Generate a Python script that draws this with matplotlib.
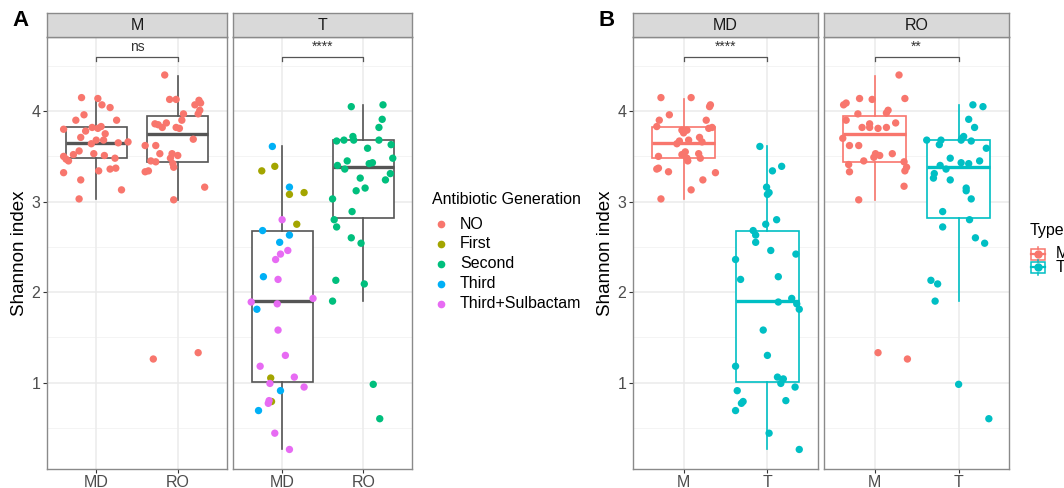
import matplotlib
matplotlib.use("Agg")
import matplotlib.pyplot as plt
from matplotlib.lines import Line2D
from matplotlib.patches import Rectangle

plt.rcParams['font.family'] = ['Liberation Sans', 'DejaVu Sans']

# ---------------- data ----------------
gen_names = ["NO", "First", "Second", "Third", "Third+Sulbactam"]
gen_colors = ["#F8766D", "#A3A500", "#00BF7D", "#00B0F6", "#E76BF3"]
type_names = ["M", "T"]
type_colors = ["#F8766D", "#00BFC4"]

# panel A, facet M (all generation NO)
a_m_md_y = [4.15, 4.14, 4.07, 4.04, 3.90, 3.96, 3.90, 3.80, 3.78, 3.82, 3.81, 3.83,
            3.75, 3.71, 3.68, 3.64, 3.68, 3.65, 3.66, 3.56, 3.52, 3.53, 3.50, 3.47,
            3.45, 3.51, 3.48, 3.32, 3.24, 3.34, 3.36, 3.37, 3.13, 3.03]
a_m_md_dx = [-0.18, 0.02, 0.07, 0.17, -0.25, -0.15, 0.25, -0.40, -0.13, -0.05, 0.02, 0.06,
             0.11, -0.19, 0.00, -0.06, 0.09, 0.27, 0.39, -0.21, -0.28, -0.03, -0.40, -0.37,
             -0.34, 0.10, 0.23, -0.40, -0.19, 0.03, 0.17, 0.24, 0.31, -0.21]
a_m_ro_y = [4.40, 4.13, 4.13, 4.12, 4.09, 4.07, 4.01, 3.97, 3.97, 3.90, 3.86, 3.85,
            3.82, 3.87, 3.82, 3.81, 3.62, 3.62, 3.69, 3.45, 3.44, 3.53, 3.53, 3.51,
            3.48, 3.42, 3.38, 3.33, 3.34, 3.16, 3.02, 1.26, 1.33]
a_m_ro_dx = [-0.16, -0.10, -0.02, 0.26, 0.28, 0.21, 0.27, 0.25, 0.07, 0.05, -0.28, -0.24,
             -0.19, -0.14, -0.02, 0.02, -0.40, -0.27, 0.19, -0.33, -0.27, -0.22, -0.07, 0.00,
             -0.09, -0.06, -0.05, -0.40, -0.36, 0.33, -0.05, -0.30, 0.25]

# panel A, facet T
a_t_md_y = [3.61, 3.16, 2.68, 2.63, 2.55, 2.17, 1.81, 0.91, 0.69,
            3.34, 3.39, 3.08, 3.10, 2.75, 1.05, 0.79,
            2.80, 2.46, 2.42, 2.36, 2.14, 1.89, 1.87, 1.93, 1.58, 1.30, 1.18, 1.06,
            0.99, 0.95, 0.80, 0.77, 0.44, 0.26]
a_t_md_dx = [-0.12, 0.09, -0.24, 0.09, -0.03, -0.23, -0.31, -0.02, -0.29,
             -0.25, -0.09, 0.09, 0.27, 0.18, -0.14, -0.13,
             0.00, 0.07, -0.02, -0.08, -0.05, -0.38, -0.06, 0.38, -0.05, 0.04, -0.27, 0.15,
             -0.15, 0.27, -0.16, -0.17, -0.09, 0.09]
a_t_md_gen = [3] * 9 + [1] * 7 + [4] * 18
a_t_ro_y = [4.05, 4.07, 3.91, 3.82, 3.67, 3.68, 3.72, 3.68, 3.68, 3.63, 3.59, 3.48,
            3.45, 3.40, 3.36, 3.42, 3.43, 3.31, 3.24, 3.26, 3.12, 3.15, 3.03, 2.89,
            2.80, 2.72, 2.60, 2.54, 2.13, 2.09, 1.90, 0.98, 0.60]
a_t_ro_dx = [-0.15, 0.24, 0.23, 0.19, -0.33, -0.24, -0.13, -0.12, 0.19, 0.34, 0.05, 0.36,
             -0.20, -0.32, -0.23, 0.07, 0.11, 0.33, 0.27, -0.04, -0.09, 0.02, -0.38, -0.14,
             -0.36, -0.33, -0.15, -0.03, -0.34, 0.01, -0.38, 0.12, 0.20]

# panel B, facet MD
b_md_m_y = [4.15, 4.15, 4.07, 4.05, 3.96, 3.90, 3.90, 3.83, 3.82, 3.81, 3.79, 3.79,
            3.76, 3.71, 3.66, 3.68, 3.67, 3.64, 3.55, 3.50, 3.52, 3.53, 3.48, 3.48,
            3.45, 3.37, 3.36, 3.33, 3.32, 3.24, 3.13, 3.03]
b_md_m_dx = [-0.27, 0.09, 0.32, 0.31, -0.17, -0.29, 0.27, -0.32, 0.34, 0.30, -0.02, 0.04,
             0.00, 0.19, 0.22, 0.06, -0.05, -0.08, 0.02, -0.30, -0.02, 0.18, 0.20, 0.04,
             0.05, -0.30, -0.32, -0.18, 0.38, 0.23, 0.09, -0.27]
b_md_t_y = [3.61, 3.39, 3.34, 3.16, 3.08, 3.10, 2.75, 2.80, 2.68, 2.63, 2.55, 2.46,
            2.42, 2.36, 2.14, 2.17, 1.93, 1.89, 1.87, 1.81, 1.58, 1.30, 1.18, 1.06,
            1.04, 0.99, 0.95, 0.91, 0.79, 0.77, 0.80, 0.69, 0.44, 0.26]
b_md_t_dx = [-0.09, 0.17, 0.06, -0.01, 0.00, 0.02, -0.02, 0.11, -0.17, -0.14, -0.14, 0.04,
             0.34, -0.38, -0.32, 0.13, 0.29, 0.13, 0.35, 0.38, -0.05, 0.00, -0.38, 0.12,
             0.19, 0.16, 0.33, -0.36, -0.29, -0.31, 0.22, -0.38, 0.02, 0.38]

# panel B, facet RO
b_ro_m_y = [4.40, 4.14, 4.13, 4.14, 4.09, 4.07, 4.01, 3.98, 3.97, 3.90, 3.87, 3.86,
            3.82, 3.82, 3.81, 3.82, 3.70, 3.62, 3.62, 3.53, 3.51, 3.49, 3.53, 3.45,
            3.41, 3.44, 3.33, 3.38, 3.34, 3.17, 3.02, 1.33, 1.26]
b_ro_m_dx = [0.29, 0.36, -0.03, -0.18, -0.34, -0.37, 0.16, 0.14, -0.20, -0.34, 0.25, -0.06,
             -0.15, -0.06, 0.04, 0.14, -0.38, -0.30, -0.19, 0.01, 0.06, -0.01, 0.21, -0.13,
             -0.31, 0.35, -0.30, 0.38, 0.36, 0.35, -0.19, 0.04, 0.39]
b_ro_t_y = [4.07, 4.05, 3.91, 3.82, 3.68, 3.68, 3.70, 3.72, 3.68, 3.67, 3.63, 3.59,
            3.48, 3.45, 3.43, 3.42, 3.40, 3.36, 3.31, 3.26, 3.24, 3.15, 3.12, 3.03,
            2.89, 2.80, 2.72, 2.60, 2.54, 2.13, 2.09, 1.90, 0.98, 0.60]
b_ro_t_dx = [0.17, 0.29, 0.12, 0.19, -0.38, -0.21, 0.04, 0.06, 0.03, 0.15, -0.23, 0.33,
             -0.10, 0.25, 0.03, 0.12, -0.22, -0.15, -0.29, -0.30, -0.10, 0.09, 0.09, 0.15,
             -0.19, 0.13, -0.19, 0.20, 0.31, -0.33, -0.25, -0.28, 0.00, 0.36]

# box statistics: M/MD, M/RO, T/MD, T/RO
box_groups = ["M/MD", "M/RO", "T/MD", "T/RO"]
box_lo = [3.03, 3.02, 0.26, 1.90]
box_q1 = [3.48, 3.44, 1.01, 2.82]
box_med = [3.65, 3.75, 1.90, 3.38]
box_q3 = [3.82, 3.95, 2.67, 3.68]
box_hi = [4.14, 4.39, 3.61, 4.07]

sig_a = ["ns", "****"]
sig_b = ["****", "**"]
sig_y = 4.60

# ---------------- helpers ----------------
W, H = 1064, 488
fig = plt.figure(figsize=(W / 100, H / 100), dpi=100)


def box(i):
    return dict(whislo=box_lo[i], q1=box_q1[i], med=box_med[i], q3=box_q3[i],
                whishi=box_hi[i], fliers=[], label=box_groups[i])


def facet(x0, x1, strip, cats, boxes, box_cols, points, sig, first):
    ax = fig.add_axes([x0 / W, (H - 469) / H, (x1 - x0) / W, (469 - 37) / H])
    ax.set_xlim(0.4, 2.6)
    ax.set_ylim(0.044, 4.82)
    for v in [0.5, 1.5, 2.5, 3.5, 4.5]:
        ax.axhline(v, color="#F2F2F2", lw=0.6, zorder=0)
    for v in [1, 2, 3, 4]:
        ax.axhline(v, color="#EBEBEB", lw=1.1, zorder=0)
    for v in [1, 2]:
        ax.axvline(v, color="#EBEBEB", lw=1.1, zorder=0)
    for k, (b, c) in enumerate(zip(boxes, box_cols)):
        ax.bxp([b], positions=[k + 1], widths=0.75, showcaps=False, showfliers=False,
               patch_artist=True,
               boxprops=dict(facecolor="white", edgecolor=c, lw=1.2),
               whiskerprops=dict(color=c, lw=1.2),
               medianprops=dict(color=c, lw=2.4), zorder=2)
    for pos, ys, dxs, cols in points:
        xs = [pos + d for d in dxs]
        ax.scatter(xs, ys, s=28, c=cols, edgecolors="none", zorder=3)
    # significance bracket
    ax.plot([1, 1, 2, 2], [sig_y - 0.04, sig_y, sig_y, sig_y - 0.04],
            color="#555555", lw=0.9, zorder=4)
    ax.text(1.5, sig_y + 0.03, sig, ha="center", va="bottom", fontsize=10,
            color="#333333")
    ax.set_xticks([1, 2])
    ax.set_xticklabels(cats, fontsize=11.5, color="#4D4D4D")
    ax.set_yticks([1, 2, 3, 4])
    if first:
        ax.set_yticklabels(["1", "2", "3", "4"], fontsize=11.5, color="#4D4D4D")
        ax.tick_params(axis="y", length=3, color="#333333", pad=2)
    else:
        ax.tick_params(axis="y", length=0, labelleft=False)
    ax.tick_params(axis="x", length=3, color="#333333", pad=1)
    for s in ax.spines.values():
        s.set_color("#8A8A8A")
        s.set_linewidth(1.0)
    # strip
    sax = fig.add_axes([x0 / W, (H - 37) / H, (x1 - x0) / W, 24 / H])
    sax.set_facecolor("#D9D9D9")
    sax.set_xticks([])
    sax.set_yticks([])
    for s in sax.spines.values():
        s.set_color("#8A8A8A")
        s.set_linewidth(1.0)
    sax.text(0.5, 0.5, strip, ha="center", va="center", fontsize=11.5,
             color="#1A1A1A", transform=sax.transAxes)
    return ax


def px(x, y):
    return x / W, 1 - y / H


# ---------------- panel A ----------------
gc = gen_colors
facet(47.3, 226.7, "M", ["MD", "RO"], [box(0), box(1)], ["#555555"] * 2,
      [(1, a_m_md_y, a_m_md_dx, gc[0]), (2, a_m_ro_y, a_m_ro_dx, gc[0])],
      sig_a[0], True)
facet(233.3, 412.3, "T", ["MD", "RO"], [box(2), box(3)], ["#555555"] * 2,
      [(1, a_t_md_y, a_t_md_dx, [gc[g] for g in a_t_md_gen]),
       (2, a_t_ro_y, a_t_ro_dx, gc[2])],
      sig_a[1], False)

# ---------------- panel B ----------------
tc = type_colors
facet(633.3, 817.7, "MD", type_names, [box(0), box(2)], tc,
      [(1, b_md_m_y, b_md_m_dx, tc[0]), (2, b_md_t_y, b_md_t_dx, tc[1])],
      sig_b[0], True)
facet(824.3, 1009.0, "RO", type_names, [box(1), box(3)], tc,
      [(1, b_ro_m_y, b_ro_m_dx, tc[0]), (2, b_ro_t_y, b_ro_t_dx, tc[1])],
      sig_b[1], False)

# axis titles and panel tags
fig.text(*px(20, 253), "Shannon index", rotation=90, ha="center", va="center", fontsize=13.5)
fig.text(*px(606, 253), "Shannon index", rotation=90, ha="center", va="center", fontsize=13.5)
fig.text(*px(12, 20), "A", ha="left", va="center", fontsize=16, fontweight="bold")
fig.text(*px(598, 20), "B", ha="left", va="center", fontsize=16, fontweight="bold")

# legend: antibiotic generation
fig.text(*px(432, 200), "Antibiotic Generation", ha="left", va="center", fontsize=11.5)
for i, (name, c) in enumerate(zip(gen_names, gen_colors)):
    y = 224 + 20 * i
    fig.add_artist(Line2D([441 / W], [1 - y / H], marker="o", ls="", color=c,
                          markersize=4.5, transform=fig.transFigure))
    fig.text(*px(460, y), name, ha="left", va="center", fontsize=11.5)

# legend: type (boxplot keys)
fig.text(*px(1030, 230), "Type", ha="left", va="center", fontsize=11.5)
for i, (name, c) in enumerate(zip(type_names, type_colors)):
    y = 254 + 13 * i
    fig.add_artist(Rectangle((1031 / W, 1 - (y + 5.5) / H), 14 / W, 11 / H,
                             facecolor="white", edgecolor=c, lw=1.1,
                             transform=fig.transFigure))
    fig.add_artist(Line2D([1038 / W, 1038 / W], [1 - (y - 7.5) / H, 1 - (y - 5.5) / H],
                          color=c, lw=1.1, transform=fig.transFigure))
    fig.add_artist(Line2D([1038 / W, 1038 / W], [1 - (y + 5.5) / H, 1 - (y + 7.5) / H],
                          color=c, lw=1.1, transform=fig.transFigure))
    fig.add_artist(Line2D([1031 / W, 1045 / W], [1 - y / H, 1 - y / H],
                          color=c, lw=1.6, transform=fig.transFigure))
    fig.add_artist(Line2D([1038 / W], [1 - y / H], marker="o", ls="", color=c,
                          markersize=5, transform=fig.transFigure))
    fig.text(*px(1056, y), name, ha="left", va="center", fontsize=11.5)

fig.savefig("out.png", dpi=100)
